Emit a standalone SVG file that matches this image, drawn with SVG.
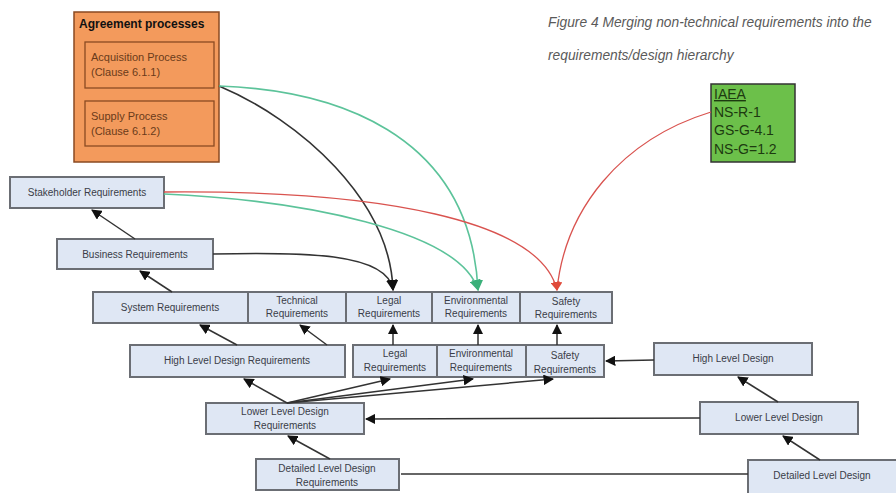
<svg xmlns="http://www.w3.org/2000/svg" width="896" height="493" viewBox="0 0 896 493">
  <style>
    .box { fill: #dfe7f4; stroke: #6b6e74; stroke-width: 2; }
    .lbl { font-family: "Liberation Sans", Arial, sans-serif; font-size: 10px; fill: #3a3d48; text-anchor: middle; }
    .cap { font-family: "Liberation Sans", Arial, sans-serif; font-size: 13.8px; font-style: italic; fill: #5a5a5a; }
    .conn { fill: none; stroke: #333; stroke-width: 1.5; }
    .blk { fill: none; stroke: #333; stroke-width: 1.6; }
    .grn { fill: none; stroke: #5cc39a; stroke-width: 1.6; }
    .red { fill: none; stroke: #d9534f; stroke-width: 1.3; }
    .org { fill: #f39a5c; stroke: #8a4a22; stroke-width: 1.5; }
    .orgtxt { font-family: "Liberation Sans", Arial, sans-serif; font-size: 11px; fill: #6a3a1a; }
    .iaea { font-family: "Liberation Sans", Arial, sans-serif; font-size: 14px; fill: #1d3a10; }
  </style>
  <defs>
    <marker id="ah" viewBox="0 0 10 10" refX="9" refY="5" markerWidth="7" markerHeight="7" orient="auto-start-reverse">
      <path d="M0,0 L10,5 L0,10 z" fill="#111"/>
    </marker>
    <marker id="ahg" viewBox="0 0 10 10" refX="9" refY="5" markerWidth="7" markerHeight="7" orient="auto">
      <path d="M0,0 L10,5 L0,10 z" fill="#3bb07a"/>
    </marker>
    <marker id="ahr" viewBox="0 0 10 10" refX="9" refY="5" markerWidth="7" markerHeight="7" orient="auto">
      <path d="M0,0 L10,5 L0,10 z" fill="#e04a3a"/>
    </marker>
  </defs>

  <rect width="896" height="493" fill="#ffffff"/>

  <!-- caption -->
  <text class="cap" x="548" y="27">Figure 4 Merging non-technical requirements into the</text>
  <text class="cap" x="548" y="60">requirements/design hierarchy</text>

  <!-- agreement processes -->
  <g id="agreement">
    <rect class="org" x="74" y="12" width="145" height="150"/>
    <text x="79" y="28" font-family="Liberation Sans, Arial, sans-serif" font-size="12" font-weight="bold" fill="#111">Agreement processes</text>
    <g id="acquisition">
      <rect x="85" y="42" width="129" height="46" fill="none" stroke="#8a4a22" stroke-width="1.3"/>
      <text class="orgtxt" x="91" y="61">Acquisition Process</text>
      <text class="orgtxt" x="91" y="76">(Clause 6.1.1)</text>
    </g>
    <g id="supply">
      <rect x="85" y="101" width="129" height="45" fill="none" stroke="#8a4a22" stroke-width="1.3"/>
      <text class="orgtxt" x="91" y="120">Supply Process</text>
      <text class="orgtxt" x="91" y="135">(Clause 6.1.2)</text>
    </g>
  </g>

  <!-- IAEA standards -->
  <g id="iaea">
    <rect x="711" y="84" width="84" height="78" fill="#6cc04a" stroke="#333" stroke-width="1.5"/>
    <text class="iaea" x="714" y="99" text-decoration="underline">IAEA</text>
    <text class="iaea" x="714" y="117">NS-R-1</text>
    <text class="iaea" x="714" y="135">GS-G-4.1</text>
    <text class="iaea" x="714" y="154">NS-G=1.2</text>
  </g>

  <!-- requirement nodes -->
  <g id="stakeholder">
    <rect class="box" x="10" y="177" width="154" height="31"/>
    <text class="lbl" x="87" y="196">Stakeholder Requirements</text>
  </g>
  <g id="business">
    <rect class="box" x="57" y="239" width="156" height="30"/>
    <text class="lbl" x="135" y="258">Business Requirements</text>
  </g>
  <g id="system">
    <rect class="box" x="93" y="292" width="155" height="31"/>
    <text class="lbl" x="170" y="311">System Requirements</text>
  </g>
  <g id="technical">
    <rect class="box" x="248" y="292" width="98" height="31"/>
    <text class="lbl" x="297" y="304">Technical</text>
    <text class="lbl" x="297" y="317">Requirements</text>
  </g>
  <g id="legal">
    <rect class="box" x="346" y="292" width="86" height="31"/>
    <text class="lbl" x="389" y="304">Legal</text>
    <text class="lbl" x="389" y="317">Requirements</text>
  </g>
  <g id="environmental">
    <rect class="box" x="432" y="292" width="88" height="31"/>
    <text class="lbl" x="476" y="304">Environmental</text>
    <text class="lbl" x="476" y="317">Requirements</text>
  </g>
  <g id="safety">
    <rect class="box" x="520" y="292" width="92" height="31"/>
    <text class="lbl" x="566" y="305">Safety</text>
    <text class="lbl" x="566" y="318">Requirements</text>
  </g>

  <g id="hld-req">
    <rect class="box" x="130" y="345" width="215" height="32"/>
    <text class="lbl" x="237" y="364">High Level Design Requirements</text>
  </g>
  <g id="legal-hld">
    <rect class="box" x="353" y="345" width="84" height="32"/>
    <text class="lbl" x="395" y="357">Legal</text>
    <text class="lbl" x="395" y="371">Requirements</text>
  </g>
  <g id="environmental-hld">
    <rect class="box" x="437" y="345" width="89" height="32"/>
    <text class="lbl" x="481" y="357">Environmental</text>
    <text class="lbl" x="481" y="371">Requirements</text>
  </g>
  <g id="safety-hld">
    <rect class="box" x="526" y="345" width="78" height="32"/>
    <text class="lbl" x="565" y="359">Safety</text>
    <text class="lbl" x="565" y="373">Requirements</text>
  </g>
  <g id="hld">
    <rect class="box" x="654" y="343" width="158" height="32"/>
    <text class="lbl" x="733" y="362">High Level Design</text>
  </g>

  <g id="lld-req">
    <rect class="box" x="206" y="403" width="158" height="31"/>
    <text class="lbl" x="285" y="415">Lower  Level Design</text>
    <text class="lbl" x="285" y="429">Requirements</text>
  </g>
  <g id="lld">
    <rect class="box" x="700" y="402" width="158" height="32"/>
    <text class="lbl" x="779" y="421">Lower  Level Design</text>
  </g>

  <g id="dld-req">
    <rect class="box" x="256" y="459" width="143" height="31"/>
    <text class="lbl" x="327" y="472">Detailed  Level Design</text>
    <text class="lbl" x="327" y="486">Requirements</text>
  </g>
  <g id="dld">
    <rect class="box" x="748" y="460" width="152" height="34"/>
    <text class="lbl" x="822" y="479">Detailed  Level Design</text>
  </g>

  <!-- connectors -->
  <g id="connectors">
    <line class="conn" x1="135" y1="239" x2="92" y2="210" marker-end="url(#ah)"/>
    <line class="conn" x1="172" y1="292" x2="140" y2="271" marker-end="url(#ah)"/>
    <line class="conn" x1="237" y1="345" x2="200" y2="325" marker-end="url(#ah)"/>
    <line class="conn" x1="327" y1="345" x2="300" y2="325" marker-end="url(#ah)"/>
    <line class="conn" x1="393" y1="345" x2="393" y2="325" marker-end="url(#ah)"/>
    <line class="conn" x1="478" y1="345" x2="478" y2="325" marker-end="url(#ah)"/>
    <line class="conn" x1="557" y1="345" x2="557" y2="325" marker-end="url(#ah)"/>
    <line class="conn" x1="654" y1="360" x2="606" y2="361" marker-end="url(#ah)"/>
    <line class="conn" x1="287" y1="403" x2="244" y2="379" marker-end="url(#ah)"/>
    <line class="conn" x1="287" y1="403" x2="390" y2="379" marker-end="url(#ah)"/>
    <line class="conn" x1="287" y1="403" x2="473" y2="379" marker-end="url(#ah)"/>
    <line class="conn" x1="287" y1="403" x2="553" y2="379" marker-end="url(#ah)"/>
    <line class="conn" x1="700" y1="418" x2="366" y2="419" marker-end="url(#ah)"/>
    <line class="conn" x1="778" y1="402" x2="738" y2="377" marker-end="url(#ah)"/>
    <line class="conn" x1="330" y1="459" x2="288" y2="436" marker-end="url(#ah)"/>
    <line class="conn" x1="748" y1="474" x2="401" y2="474"/>
    <line class="conn" x1="820" y1="460" x2="783" y2="436" marker-end="url(#ah)"/>

    <!-- non-technical requirement feeds -->
    <path class="blk" d="M219,86 C300,120 390,200 393,290" marker-end="url(#ah)"/>
    <path class="blk" d="M213,254 C300,252 388,252 393,290" marker-end="url(#ah)"/>
    <path class="grn" d="M219,86 C330,90 470,130 478,290" marker-end="url(#ahg)"/>
    <path class="grn" d="M164,194 C300,200 460,230 478,290" marker-end="url(#ahg)"/>
    <path class="red" d="M164,192 C380,190 540,220 557,290" marker-end="url(#ahr)"/>
    <path class="red" d="M711,112 C620,140 565,210 557,290" marker-end="url(#ahr)"/>
  </g>
</svg>
